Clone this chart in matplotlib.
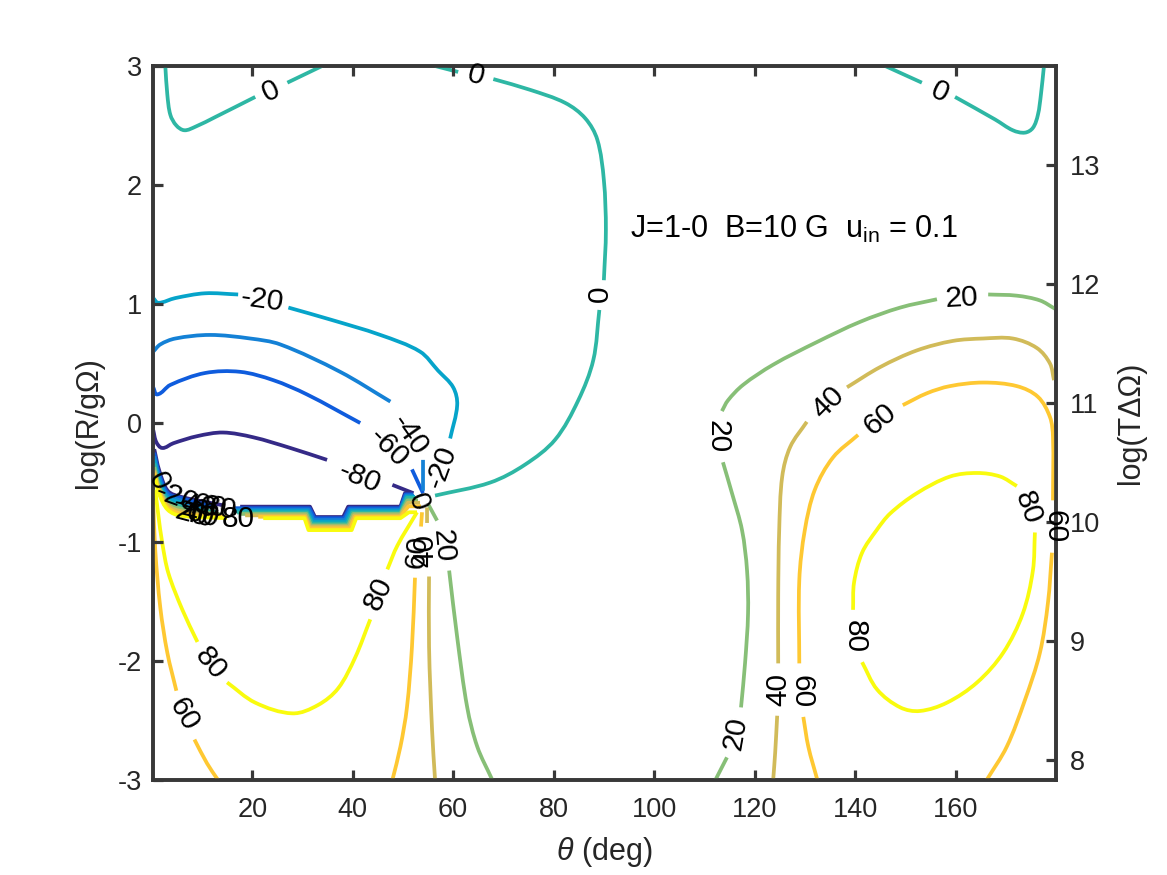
import numpy as np
import matplotlib
matplotlib.use('Agg')
import matplotlib.pyplot as plt
from matplotlib.path import Path
from matplotlib.patches import PathPatch

plt.rcParams['font.family'] = ['Liberation Sans', 'DejaVu Sans']
plt.rcParams['mathtext.fontset'] = 'custom'
plt.rcParams['mathtext.rm'] = 'Liberation Sans'
plt.rcParams['mathtext.it'] = 'Liberation Sans:italic'
plt.rcParams['axes.unicode_minus'] = False

# level colours (parula)
c_m80 = '#352a87'
c_m60 = '#0f5cdd'
c_m40 = '#1481d6'
c_m20 = '#06a4ca'
c_0 = '#2eb7a4'
c_20 = '#87bf77'
c_40 = '#d1bb59'
c_60 = '#fec832'
c_80 = '#f9fb0e'

# contour 0
z1_t = [2.7, 3.1, 3.7, 4.9, 6.5, 8.7, 12.6, 20.6]
z1_r = [3.0, 2.76, 2.59, 2.50, 2.46, 2.49, 2.57, 2.74]
z2_t = [27.0, 33.9]
z2_r = [2.86, 3.0]
z3_t = [56.4, 61.0]
z3_r = [3.0, 2.95]
z4_t = [68.0, 75.3, 82.3, 86.3, 88.7, 90.0, 90.4, 90.0]
z4_r = [2.89, 2.80, 2.69, 2.56, 2.38, 2.04, 1.62, 1.20]
z5_t = [89.1, 87.9, 84.9, 80.3, 74.3, 67.4, 56.4]
z5_r = [0.95, 0.53, 0.19, -0.14, -0.35, -0.50, -0.61]
z6_t = [177.6, 177.0, 176.4, 175.4, 173.8, 171.4, 167.9, 159.9]
z6_r = [3.0, 2.76, 2.59, 2.48, 2.44, 2.46, 2.55, 2.74]
z7_t = [153.3, 146.0]
z7_r = [2.86, 3.0]

# negative contours, upper left
m20a_t = [0.3, 1.3, 4.7, 10.6, 17.2]
m20a_r = [1.05, 1.01, 1.05, 1.09, 1.08]
m20b_t = [27.2, 35.5, 45.5, 53.4, 57.0, 60.0, 60.8, 59.4]
m20b_r = [0.97, 0.87, 0.74, 0.60, 0.44, 0.30, 0.15, -0.13]
m40a_t = [0.3, 1.7, 4.7, 11.6, 19.6, 25.6, 37.5, 47.5]
m40a_r = [0.60, 0.66, 0.71, 0.74, 0.71, 0.66, 0.43, 0.18]
m40b_t = [54.0, 54.0]
m40b_r = [-0.31, -0.57]
m60a_t = [0.3, 1.1, 3.7, 10.6, 17.6, 24.2, 30.9, 41.5]
m60a_r = [0.30, 0.24, 0.32, 0.42, 0.43, 0.36, 0.24, 0.0]
m60b_t = [51.8, 54.0]
m60b_r = [-0.39, -0.59]
m80a_t = [0.3, 0.9, 2.1, 4.3, 9.1, 14.2, 20.2, 27.6, 34.9]
m80a_r = [-0.06, -0.16, -0.21, -0.17, -0.11, -0.08, -0.12, -0.21, -0.31]
m80b_t = [47.9, 52.1]
m80b_r = [-0.52, -0.59]

# the stepped band, one list per level
bm80_t = [17.6, 31.5, 32.5, 38.1, 39.1, 49.5, 50.4, 51.8]
bm80_r = [-0.703, -0.703, -0.79, -0.79, -0.703, -0.703, -0.59, -0.59]
bm60_t = [16.6, 31.4, 32.4, 38.3, 39.3, 49.5, 50.5, 52.0]
bm60_r = [-0.716, -0.716, -0.80, -0.80, -0.716, -0.716, -0.60, -0.60]
bm40_t = [16.6, 31.2, 32.2, 38.5, 39.5, 49.5, 50.6, 52.2]
bm40_r = [-0.728, -0.728, -0.815, -0.815, -0.728, -0.728, -0.61, -0.61]
bm20_t = [16.6, 31.0, 32.0, 38.7, 39.7, 49.5, 50.7, 52.4]
bm20_r = [-0.74, -0.74, -0.83, -0.83, -0.74, -0.74, -0.62, -0.62]
b0_t = [17.0, 30.9, 31.9, 38.9, 39.9, 49.5, 50.8, 52.6]
b0_r = [-0.752, -0.752, -0.845, -0.845, -0.752, -0.752, -0.63, -0.63]
b20_t = [17.6, 30.8, 31.7, 39.1, 40.1, 49.5, 50.9, 53.0]
b20_r = [-0.764, -0.764, -0.86, -0.86, -0.764, -0.764, -0.65, -0.65]
b40_t = [18.6, 30.6, 31.5, 39.3, 40.3, 49.5, 51.0, 53.4]
b40_r = [-0.776, -0.776, -0.87, -0.87, -0.776, -0.776, -0.67, -0.67]
b60_t = [21.2, 30.5, 31.4, 39.5, 40.5, 49.5, 51.1, 53.6]
b60_r = [-0.788, -0.788, -0.885, -0.885, -0.788, -0.788, -0.70, -0.70]
b80_t = [22.2, 30.4, 31.2, 39.8, 40.7, 49.5, 51.2, 52.8]
b80_r = [-0.80, -0.80, -0.90, -0.90, -0.80, -0.80, -0.75, -0.75]

# short left ends of the band, under the labels
sm80_t = [0.5, 1.5, 3.2, 5.8, 14.0]
sm80_r = [-0.22, -0.40, -0.57, -0.62, -0.69]
sm60_t = [0.5, 1.5, 3.2, 5.8, 12.0]
sm60_r = [-0.25, -0.43, -0.59, -0.63, -0.70]
sm40_t = [0.5, 1.5, 3.2, 5.8, 10.0]
sm40_r = [-0.28, -0.46, -0.61, -0.65, -0.72]
sm20_t = [0.5, 1.5, 3.2, 5.8, 8.0]
sm20_r = [-0.31, -0.49, -0.63, -0.67, -0.74]
s0_t = [0.5, 1.5, 3.2, 5.8, 13.0]
s0_r = [-0.34, -0.52, -0.65, -0.70, -0.75]
s20_t = [0.5, 1.5, 3.2, 5.8, 14.0]
s20_r = [-0.37, -0.54, -0.67, -0.72, -0.77]
s40_t = [0.5, 1.5, 3.2, 5.8, 14.0]
s40_r = [-0.40, -0.56, -0.69, -0.74, -0.78]
s60_t = [0.5, 1.5, 3.2, 5.8, 15.0]
s60_r = [-0.42, -0.58, -0.71, -0.76, -0.79]
s80_t = [0.5, 1.5, 3.2, 5.8, 15.0]
s80_r = [-0.44, -0.60, -0.73, -0.78, -0.80]

# positive contours
y1_t = [0.7, 1.3, 2.1, 3.3, 6.1, 9.1]
y1_r = [-0.56, -0.77, -1.01, -1.26, -1.57, -1.84]
y2_t = [15.0, 20.6, 28.0, 33.1, 37.1, 40.5, 43.5]
y2_r = [-2.18, -2.35, -2.44, -2.37, -2.23, -1.97, -1.65]
y3_t = [46.9, 48.9, 52.8]
y3_r = [-1.23, -1.03, -0.75]
y4_t = [172.2, 168.9, 164.3, 158.9, 152.3, 147.0, 144.3, 141.4, 139.8, 139.6]
y4_r = [-0.53, -0.45, -0.42, -0.45, -0.59, -0.76, -0.90, -1.09, -1.34, -1.57]
y5_t = [141.4, 144.4, 149.0, 152.9, 158.3, 164.3, 169.5, 173.4, 175.4, 175.8]
y5_r = [-2.01, -2.24, -2.39, -2.42, -2.35, -2.18, -1.93, -1.60, -1.24, -0.92]

o1_t = [0.3, 0.7, 1.7, 3.1, 4.9]
o1_r = [-0.65, -1.07, -1.55, -1.93, -2.25]
o2_t = [8.5, 11.0, 13.2]
o2_r = [-2.66, -2.86, -3.0]
o3_t = [53.8, 53.6]
o3_r = [-0.75, -0.87]
o4_t = [52.4, 51.8, 50.8, 49.5, 47.9]
o4_r = [-1.30, -1.88, -2.39, -2.72, -3.0]
o5_t = [179.4, 179.4, 178.8, 176.4, 172.2, 165.5, 158.9, 154.3, 149.5]
o5_r = [-0.65, -0.12, 0.05, 0.22, 0.31, 0.34, 0.31, 0.25, 0.15]
o6_t = [140.6, 135.6, 132.0, 130.0, 128.9, 128.9]
o6_r = [-0.10, -0.29, -0.56, -0.90, -1.32, -2.02]
o7_t = [129.7, 130.7, 132.5]
o7_r = [-2.47, -2.72, -3.0]
o8_t = [179.2, 178.4, 176.8, 173.8, 170.2, 166.2]
o8_r = [-1.09, -1.51, -1.93, -2.33, -2.72, -3.0]

g1_t = [54.8, 54.8]
g1_r = [-0.71, -0.84]
g2_t = [55.2, 55.2, 55.8, 56.4]
g2_r = [-1.29, -1.88, -2.58, -3.0]
g3_t = [179.6, 178.8, 176.2, 171.4, 165.5, 159.5, 152.3, 145.0, 138.4]
g3_r = [0.36, 0.50, 0.63, 0.71, 0.71, 0.69, 0.61, 0.47, 0.30]
g4_t = [130.4, 127.1, 125.5, 124.9, 124.7, 124.7]
g4_r = [0.01, -0.20, -0.45, -0.90, -1.46, -2.02]
g5_t = [124.5, 124.1, 123.7]
g5_r = [-2.46, -2.77, -3.0]

n1_t = [55.0, 56.8]
n1_r = [-0.68, -0.82]
n2_t = [59.2, 60.8, 62.8, 64.8, 67.8]
n2_r = [-1.24, -1.80, -2.39, -2.72, -3.0]
n3_t = [179.8, 176.8, 172.2, 166.5]
n3_r = [0.96, 1.03, 1.07, 1.08]
n4_t = [156.3, 149.0, 141.0, 132.4, 123.7, 117.7, 114.7, 113.5]
n4_r = [1.04, 0.97, 0.85, 0.68, 0.49, 0.32, 0.19, 0.10]
n5_t = [113.7, 115.5, 117.5, 118.5, 118.7, 118.1, 117.3]
n5_r = [-0.33, -0.59, -0.90, -1.24, -1.60, -2.02, -2.39]
n6_t = [114.5, 112.2]
n6_r = [-2.81, -3.0]

# contour labels: text, theta, logR, angle
lab_txt = ['0', '0', '0', '0', '-20', '20', '40', '60', '-40', '-60', '-80', '-20', '0', '0',
           '-20', '-40', '-60', '-80', '20', '40', '60', '80', '80', '60', '80', '60', '40', '20',
           '20', '20', '40', '60', '80', '80', '60']
lab_t = [23.8, 64.6, 89.3, 156.9, 22.0, 161.3, 134.6, 145.0, 51.4, 47.1, 41.3, 57.6, 53.0, 1.3,
         5.0, 8.7, 10.6, 12.6, 8.0, 9.0, 10.2, 17.2, 11.6, 6.3, 45.1, 52.8, 54.4, 58.0,
         112.7, 116.3, 124.7, 129.3, 140.0, 174.4, 179.8]
lab_r = [2.79, 2.92, 1.09, 2.78, 1.03, 1.05, 0.17, 0.03, -0.10, -0.21, -0.46, -0.37, -0.66, -0.49,
         -0.63, -0.70, -0.70, -0.71, -0.77, -0.78, -0.78, -0.81, -2.02, -2.45, -1.43, -1.08, -1.07, -1.03,
         -0.11, -2.61, -2.24, -2.26, -1.79, -0.71, -0.87]
lab_a = [25, -15, 90, -25, -8, 3, 45, 40, -55, -45, -22, 70, -70, -65,
         -20, -10, -10, -10, -15, -15, -15, 0, -50, -60, 65, 85, 90, -85,
         -90, 80, 90, -90, -90, -70, -90]

smooth_segments = [
    (m80a_t, m80a_r, c_m80), (m80b_t, m80b_r, c_m80), (sm80_t, sm80_r, c_m80),
    (m60a_t, m60a_r, c_m60), (m60b_t, m60b_r, c_m60), (sm60_t, sm60_r, c_m60),
    (m40a_t, m40a_r, c_m40), (m40b_t, m40b_r, c_m40), (sm40_t, sm40_r, c_m40),
    (m20a_t, m20a_r, c_m20), (m20b_t, m20b_r, c_m20), (sm20_t, sm20_r, c_m20),
    (z1_t, z1_r, c_0), (z2_t, z2_r, c_0), (z3_t, z3_r, c_0), (z4_t, z4_r, c_0), (z5_t, z5_r, c_0),
    (z6_t, z6_r, c_0), (z7_t, z7_r, c_0), (s0_t, s0_r, c_0),
    (n1_t, n1_r, c_20), (n2_t, n2_r, c_20), (n3_t, n3_r, c_20), (n4_t, n4_r, c_20), (n5_t, n5_r, c_20),
    (n6_t, n6_r, c_20), (s20_t, s20_r, c_20),
    (g1_t, g1_r, c_40), (g2_t, g2_r, c_40), (g3_t, g3_r, c_40), (g4_t, g4_r, c_40), (g5_t, g5_r, c_40),
    (s40_t, s40_r, c_40),
    (o1_t, o1_r, c_60), (o2_t, o2_r, c_60), (o3_t, o3_r, c_60), (o4_t, o4_r, c_60), (o5_t, o5_r, c_60),
    (o6_t, o6_r, c_60), (o7_t, o7_r, c_60), (o8_t, o8_r, c_60), (s60_t, s60_r, c_60),
    (y1_t, y1_r, c_80), (y2_t, y2_r, c_80), (y3_t, y3_r, c_80), (y4_t, y4_r, c_80),
    (y5_t, y5_r, c_80), (s80_t, s80_r, c_80),
]
band_segments = [
    (bm80_t, bm80_r, c_m80), (bm60_t, bm60_r, c_m60), (bm40_t, bm40_r, c_m40), (bm20_t, bm20_r, c_m20),
    (b0_t, b0_r, c_0), (b20_t, b20_r, c_20), (b40_t, b40_r, c_40), (b60_t, b60_r, c_60), (b80_t, b80_r, c_80),
]

LW = 2.7

fig = plt.figure(figsize=(11.67, 8.75), dpi=100)
ax = fig.add_axes([153 / 1167, 1 - 780 / 875, 903 / 1167, 714 / 875])
ax2 = ax.twinx()
ax.set_zorder(ax2.get_zorder() + 1)
ax.patch.set_visible(False)

ax.set_xlim(0.25, 180)
ax.set_ylim(-3, 3)
ax2.set_ylim(7.83, 13.83)


def draw_smooth(t, r, col):
    # bezier through the read points, worked out in screen units so the axes scales don't skew it
    p = ax.transData.transform(np.column_stack([t, r]))
    verts = [p[0]]
    codes = [Path.MOVETO]
    n = len(p)
    for i in range(n - 1):
        chord = np.linalg.norm(p[i + 1] - p[i])
        d0 = p[i + 1] - p[max(i - 1, 0)]
        d1 = p[min(i + 2, n - 1)] - p[i]
        d0 = d0 / np.linalg.norm(d0)
        d1 = d1 / np.linalg.norm(d1)
        verts += [p[i] + d0 * chord / 3, p[i + 1] - d1 * chord / 3, p[i + 1]]
        codes += [Path.CURVE4, Path.CURVE4, Path.CURVE4]
    path = Path(ax.transData.inverted().transform(np.array(verts)), codes)
    ax.add_patch(PathPatch(path, fill=False, edgecolor=col, lw=LW, capstyle='butt'))


for t, r, col in smooth_segments:
    draw_smooth(t, r, col)
for t, r, col in band_segments:
    ax.plot(t, r, color=col, lw=LW, solid_capstyle='butt', solid_joinstyle='round')

for s, t, r, a in zip(lab_txt, lab_t, lab_r, lab_a):
    ax.text(t, r, s, rotation=a, ha='center', va='center', fontsize=21.5, color='black', zorder=10,
            rotation_mode='anchor')

ax.text(95.2, 1.63, r'J=1-0  B=10 G  u$_{\mathrm{in}}$ = 0.1', fontsize=22, color='black',
        ha='left', va='center')

ax.set_xticks([20, 40, 60, 80, 100, 120, 140, 160])
ax.set_yticks([-3, -2, -1, 0, 1, 2, 3])
ax2.set_yticks([8, 9, 10, 11, 12, 13])

grey = '#262626'
for a in [ax, ax2]:
    for sp in a.spines.values():
        sp.set_linewidth(2.6)
        sp.set_color('#383838')
ax.tick_params(axis='both', direction='in', length=7, width=2.3, color='#383838',
               labelsize=19.5, labelcolor=grey, top=True, pad=8)
ax.tick_params(axis='x', pad=12)
ax2.tick_params(axis='y', direction='in', length=7, width=2.3, color='#383838',
                labelsize=19.5, labelcolor=grey, pad=10)

ax.set_xlabel(r'$\mathit{\theta}$ (deg)', fontsize=22, color=grey, labelpad=9)
ax.set_ylabel('log(R/gΩ)', fontsize=22, color=grey, labelpad=10)
ax2.set_ylabel('log(TΔΩ)', fontsize=22, color=grey, labelpad=11)

fig.savefig('out.png', dpi=100)
